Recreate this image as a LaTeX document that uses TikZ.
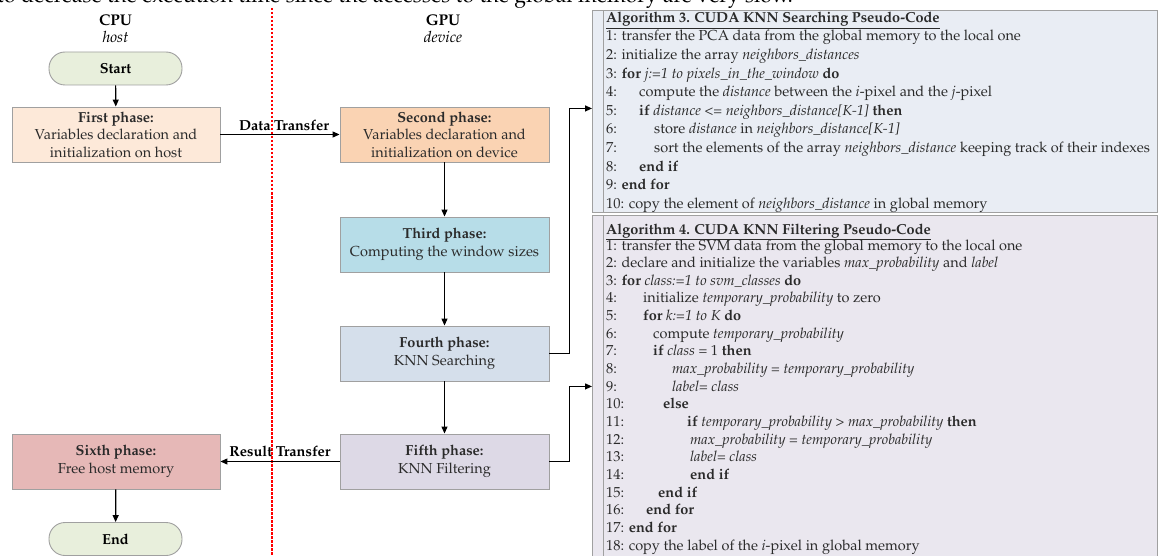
\documentclass[tikz,border=0pt]{standalone}
\usepackage[T1]{fontenc}
\usepackage{mathpazo}
\usetikzlibrary{arrows.meta}
\definecolor{startc}{HTML}{E8EFDC}
\definecolor{firstc}{HTML}{FDE9D9}
\definecolor{secondc}{HTML}{FAD3B3}
\definecolor{thirdc}{HTML}{B7DDE8}
\definecolor{fourthc}{HTML}{D5DFEB}
\definecolor{fifthc}{HTML}{DDD9E6}
\definecolor{sixthc}{HTML}{E6B8B7}
\definecolor{algthree}{HTML}{E9EDF4}
\definecolor{algfour}{HTML}{EAE7EF}
\definecolor{bordc}{HTML}{A0A0A0}
\definecolor{txtc}{HTML}{2A2A2A}
\newcommand\algnum[2]{\makebox[#1pt][l]{#2}}
\begin{document}
\begin{tikzpicture}[x=1pt,y=-1pt,
  phase/.style={draw=bordc, line width=0.9pt, minimum height=55pt, inner sep=0pt, align=center, font=\fontsize{14.5}{17.5}\selectfont, text=txtc},
  term/.style={draw=bordc, line width=0.9pt, fill=startc, rounded corners=16pt, minimum width=133pt, minimum height=33pt, inner sep=0pt, font=\fontsize{14.5}{16}\selectfont\bfseries},
  arr/.style={line width=1.2pt, -{Triangle[length=7pt,width=6pt]}},
  lbl/.style={font=\fontsize{14.5}{16}\selectfont\bfseries, inner sep=0pt},
  head/.style={font=\fontsize{15.5}{17}\selectfont, inner sep=0pt},
  algbox/.style={draw=bordc, line width=0.9pt, anchor=north west, minimum width=565pt, inner sep=0pt},
  alg/.style={anchor=base west, inner sep=0pt, font=\fontsize{14.5}{16}\selectfont, text=txtc}]
\useasboundingbox (0,0) rectangle (1161,556);
% clipped line of the page above
\node[anchor=base west, inner sep=0pt, font=\fontsize{21.3}{22}\selectfont] (topline) at (-3,3) {to decrease the execution time since the accesses to the global memory are very slow.};
% headers
\node[head] (cpu) at (115.5,20) {\textbf{CPU}};
\node[head] (host) at (115.5,37) {\textit{host}};
\node[head] (gpu) at (443,20) {\textbf{GPU}};
\node[head] (dev) at (443,37) {\textit{device}};
% divider
\draw[red, line width=1.8pt, dash pattern=on 2.5pt off 1.5pt] (272,8) -- (272,557);
% flow
\node[term] (start) at (115.5,68.5) {Start};
\node[phase, fill=firstc, minimum width=208pt] (p1) at (116,134.5) {\textbf{First phase:}\\Variables declaration and\\initialization on host};
\node[phase, fill=secondc, minimum width=209pt] (p2) at (444.5,134.5) {\textbf{Second phase:}\\Variables declaration and\\initialization on device};
\node[phase, fill=thirdc, minimum width=209pt] (p3) at (444.5,244.5) {\textbf{Third phase:}\\Computing the window sizes};
\node[phase, fill=fourthc, minimum width=209pt] (p4) at (444.5,353.5) {\textbf{Fourth phase:}\\KNN Searching};
\node[phase, fill=fifthc, minimum width=209pt] (p5) at (444.5,461.5) {\textbf{Fifth phase:}\\KNN Filtering};
\node[phase, fill=sixthc, minimum width=208pt] (p6) at (116,461.5) {\textbf{Sixth phase:}\\Free host memory};
\node[term] (end) at (115.5,539) {End};
\draw[arr] (start) -- (p1);
\draw[arr] (p1) -- (p2);
\node[lbl] (dt) at (284,125) {Data Transfer};
\draw[arr] (p2) -- (p3);
\draw[arr] (p3) -- (p4);
\draw[arr] (p4) -- (p5);
\draw[arr] (p5) -- (p6);
\node[lbl] (rt) at (280,451) {Result Transfer};
\draw[arr] (p6) -- (end);
% algorithm boxes
\node[algbox, fill=algthree, minimum height=202pt] (alg3) at (592,10) {};
\node[algbox, fill=algfour, minimum height=342pt] (alg4) at (592,215) {};
\draw[bordc, line width=0.8pt] ([xshift=11pt]alg3.north west) -- ([xshift=11pt]alg3.south west);
\draw[bordc, line width=0.8pt] ([xshift=11pt]alg4.north west) -- ([xshift=11pt]alg4.south west);
\draw[arr] (p4.east) -- ++(20,0) |- ([yshift=3pt]alg3.west);
\draw[arr] (p5.east) -- ++(20,0) |- (alg4.west);
% Algorithm 3
\node[alg] (a3t) at (606,23) {\underline{\textbf{Algorithm 3. CUDA KNN Searching Pseudo-Code}}};
\node[alg] (a3l1) at (606,41) {1: transfer the PCA data from the global memory to the local one};
\node[alg] (a3l2) at (606,59.6) {2: initialize the array \textit{neighbors\_distances}};
\node[alg] (a3l3) at (606,78.2) {3: \textbf{for} \textit{j:=1 to pixels\_in\_the\_window} \textbf{do}};
\node[alg] (a3l4) at (606,96.8) {\algnum{33}{4:}compute the \textit{distance} between the \textit{i}-pixel and the \textit{j}-pixel};
\node[alg] (a3l5) at (606,115.4) {\algnum{33}{5:}\textbf{if} \textit{distance <= neighbors\_distance[K-1]} \textbf{then}};
\node[alg] (a3l6) at (606,134) {\algnum{48}{6:}store \textit{distance} in \textit{neighbors\_distance[K-1]}};
\node[alg] (a3l7) at (606,152.6) {\algnum{48}{7:}sort the elements of the array \textit{neighbors\_distance} keeping track of their indexes};
\node[alg] (a3l8) at (606,171.2) {\algnum{33}{8:}\textbf{end if}};
\node[alg] (a3l9) at (606,189.8) {9: \textbf{end for}};
\node[alg] (a3l10) at (606,208.4) {10: copy the element of \textit{neighbors\_distance} in global memory};
% Algorithm 4
\node[alg] (a4t) at (606,234) {\underline{\textbf{Algorithm 4. CUDA KNN Filtering Pseudo-Code}}};
\node[alg] (a4l1) at (606,250) {1: transfer the SVM data from the global memory to the local one};
\node[alg] (a4l2) at (606,267.65) {2: declare and initialize the variables \textit{max\_probability} and \textit{label}};
\node[alg] (a4l3) at (606,285.3) {3: \textbf{for} \textit{class:=1 to svm\_classes} \textbf{do}};
\node[alg] (a4l4) at (606,302.95) {\algnum{37}{4:}initialize \textit{temporary\_probability} to zero};
\node[alg] (a4l5) at (606,320.6) {\algnum{37}{5:}\textbf{for} \textit{k:=1 to K} \textbf{do}};
\node[alg] (a4l6) at (606,338.25) {\algnum{47}{6:}compute \textit{temporary\_probability}};
\node[alg] (a4l7) at (606,355.9) {\algnum{47}{7:}\textbf{if} \textit{class} = 1 \textbf{then}};
\node[alg] (a4l8) at (606,373.55) {\algnum{66}{8:}\textit{max\_probability = temporary\_probability}};
\node[alg] (a4l9) at (606,391.2) {\algnum{66}{9:}\textit{label= class}};
\node[alg] (a4l10) at (606,408.85) {\algnum{57}{10:}\textbf{else}};
\node[alg] (a4l11) at (606,426.5) {\algnum{81}{11:}\textbf{if} \textit{temporary\_probability > max\_probability} \textbf{then}};
\node[alg] (a4l12) at (606,444.15) {\algnum{84}{12:}\textit{max\_probability = temporary\_probability}};
\node[alg] (a4l13) at (606,461.8) {\algnum{84}{13:}\textit{label= class}};
\node[alg] (a4l14) at (606,479.45) {\algnum{84}{14:}\textbf{end if}};
\node[alg] (a4l15) at (606,497.1) {\algnum{52}{15:}\textbf{end if}};
\node[alg] (a4l16) at (606,514.75) {\algnum{40}{16:}\textbf{end for}};
\node[alg] (a4l17) at (606,532.4) {17: \textbf{end for}};
\node[alg] (a4l18) at (606,550.05) {18: copy the label of the \textit{i}-pixel in global memory};
\end{tikzpicture}
\end{document}
